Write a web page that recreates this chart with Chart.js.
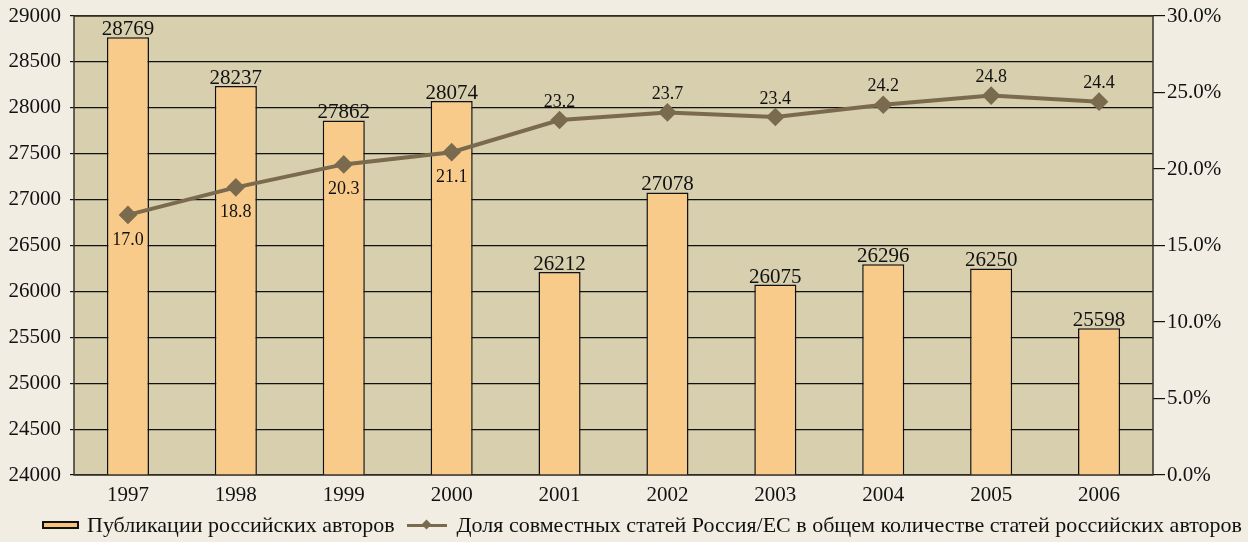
<!DOCTYPE html>
<html>
<head>
<meta charset="utf-8">
<script src="https://cdn.jsdelivr.net/npm/chart.js@4.4.0/dist/chart.umd.min.js"></script>
<style>
  html, body { margin: 0; padding: 0; background: #f1ede3; }
  #wrap { position: relative; width: 1248px; height: 542px; }
  #legend {
    position: absolute; left: 42px; top: 512px;
    font: 22px "Liberation Serif", serif; color: #111;
    display: flex; white-space: nowrap;
  }
  .item { display: flex; align-items: center; }
  .box { width: 33px; height: 4px; background: #f9c27a; border: 2px solid #111; margin-right: 8px; }
  .ln { position: relative; width: 40px; height: 3px; background: #7a6b4e; margin: 0 10px 0 12px; }
  .ln:after { content: ""; position: absolute; left: 16px; top: -2.5px; width: 7px; height: 7px;
    background: #7a6b4e; transform: rotate(45deg); }
</style>
</head>
<body>
<div id="wrap">
  <canvas id="chart" width="1248" height="542"></canvas>
  <div id="legend">
    <div class="item"><span class="box"></span>Публикации российских авторов</div>
    <div class="item"><span class="ln"></span>Доля совместных статей Россия/ЕС в общем количестве статей российских авторов</div>
  </div>
</div>
<script>
// chart data
const years = ['1997', '1998', '1999', '2000', '2001', '2002', '2003', '2004', '2005', '2006'];
const publications = [28769, 28237, 27862, 28074, 26212, 27078, 26075, 26296, 26250, 25598];
const jointShare = [17.0, 18.8, 20.3, 21.1, 23.2, 23.7, 23.4, 24.2, 24.8, 24.4];
const shareLabelBelow = [true, true, true, true, false, false, false, false, false, false];

const FONT = '"Liberation Serif", serif';

// plot background + value labels
const decor = {
  id: 'decor',
  beforeDraw(chart) {
    const { ctx, chartArea: a } = chart;
    ctx.save();
    ctx.fillStyle = '#d7cfae';
    ctx.fillRect(a.left, a.top, a.right - a.left, a.bottom - a.top);
    ctx.restore();
  },
  afterDraw(chart) {
    const { ctx, chartArea: a } = chart;
    ctx.save();
    ctx.strokeStyle = '#3a352c';
    ctx.lineWidth = 1.5;
    ctx.strokeRect(a.left, a.top, a.right - a.left, a.bottom - a.top);
    ctx.fillStyle = '#111';
    ctx.textAlign = 'center';
    ctx.font = '21px ' + FONT;
    ctx.textBaseline = 'bottom';
    chart.getDatasetMeta(1).data.forEach((bar, i) => {
      ctx.fillText(String(publications[i]), bar.x, bar.y + 3);
    });
    ctx.font = '18px ' + FONT;
    ctx.textBaseline = 'middle';
    chart.getDatasetMeta(0).data.forEach((pt, i) => {
      const dy = shareLabelBelow[i] ? 25 : -18;
      ctx.fillText(jointShare[i].toFixed(1), pt.x, pt.y + dy);
    });
    ctx.restore();
  }
};

// fixed axis widths, no extra label padding above/below the plot
function fixWidth(w) {
  return s => {
    s.width = w;
    s.paddingTop = 0;
    s.paddingBottom = 0;
  };
}

new Chart(document.getElementById('chart'), {
  data: {
    labels: years,
    datasets: [
      {
        type: 'line',
        label: 'Доля совместных статей Россия/ЕС в общем количестве статей российских авторов',
        data: jointShare,
        yAxisID: 'y1',
        borderColor: '#7a6b4e',
        backgroundColor: '#7a6b4e',
        borderWidth: 4,
        pointStyle: 'rectRot',
        pointRadius: 6.5,
        tension: 0,
        order: 0
      },
      {
        type: 'bar',
        label: 'Публикации российских авторов',
        data: publications,
        yAxisID: 'y',
        backgroundColor: '#f9cb8b',
        borderColor: '#111',
        borderWidth: 1.5,
        categoryPercentage: 1,
        barPercentage: 0.39,
        order: 1
      }
    ]
  },
  options: {
    responsive: false,
    animation: false,
    layout: { padding: { top: 16, bottom: 37, left: 0, right: 0 } },
    plugins: { legend: { display: false }, tooltip: { enabled: false } },
    scales: {
      x: {
        grid: { display: false },
        border: { display: false },
        ticks: { color: '#111', font: { family: FONT, size: 21 }, padding: 0 },
        afterFit: s => { s.height = 30; }
      },
      y: {
        position: 'left',
        min: 24000, max: 29000,
        border: { display: false },
        grid: { color: '#111', lineWidth: 1.2, tickLength: 4 },
        ticks: {
          stepSize: 500, color: '#111', font: { family: FONT, size: 21 }, padding: 9,
          callback: v => String(v)
        },
        afterFit: fixWidth(74)
      },
      y1: {
        position: 'right',
        min: 0, max: 30,
        border: { display: false },
        grid: { drawOnChartArea: false, color: '#111', lineWidth: 1.2, tickLength: 12 },
        ticks: {
          stepSize: 5, color: '#111', font: { family: FONT, size: 21 }, padding: 2,
          callback: v => v.toFixed(1) + '%'
        },
        afterFit: fixWidth(95)
      }
    }
  },
  plugins: [decor]
});
</script>
</body>
</html>
